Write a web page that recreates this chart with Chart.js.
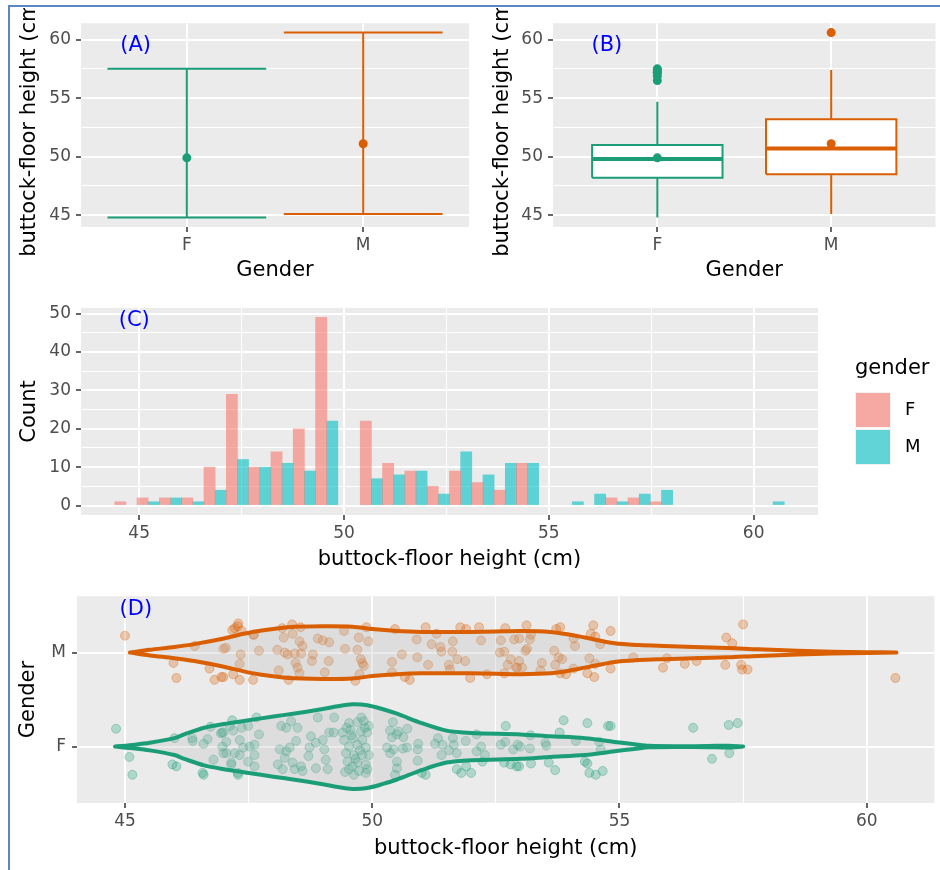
<!DOCTYPE html>
<html>
<head>
<meta charset="utf-8">
<script src="https://cdn.jsdelivr.net/npm/chart.js@4.4.1/dist/chart.umd.min.js"></script>
<style>
html, body { margin: 0; padding: 0; background: #ffffff; }
body { width: 940px; height: 870px; position: relative; overflow: hidden; }
.frame { position: absolute; left: 8px; top: 5px; width: 940px; height: 870px; border-left: 2px solid #5B87C6; border-top: 2px solid #5B87C6; }
.panel { position: absolute; }
</style>
</head>
<body>
<div class="frame"></div>
<div class="panel" style="left:10px;top:8px"><canvas id="chartA" width="470" height="282"></canvas></div>
<div class="panel" style="left:480px;top:8px"><canvas id="chartB" width="460" height="282"></canvas></div>
<div class="panel" style="left:10px;top:290px"><canvas id="chartC" width="930" height="290"></canvas></div>
<div class="panel" style="left:10px;top:580px"><canvas id="chartD" width="930" height="290"></canvas></div>
<script>
// データ
const genders = ['F', 'M']
const groupPos = [1, 2]

// (A) 範囲と平均
const rangeMin = [44.8, 45.1]
const rangeMax = [57.5, 60.6]
const meanVal = [49.9, 51.1]

// (B) 箱ひげ図
const boxQ1 = [48.2, 48.5]
const boxMed = [49.8, 50.7]
const boxQ3 = [51.0, 53.2]
const whiskLo = [44.8, 45.1]
const whiskHi = [54.7, 57.4]
const outliersF = [56.5, 56.9, 57.2, 57.2, 57.4, 57.5]
const outliersM = [60.6]

// (C) ヒストグラム
const binMid = [44.675, 45.220, 45.765, 46.309, 46.854, 47.399, 47.944, 48.489, 49.033, 49.578,
  50.123, 50.668, 51.213, 51.757, 52.302, 52.847, 53.392, 53.937, 54.481, 55.026,
  55.571, 56.116, 56.661, 57.205, 57.750, 58.295, 58.840, 59.385, 59.929, 60.474]
const countF = [1, 2, 2, 2, 10, 29, 10, 14, 20, 49, 0, 22, 11, 9, 5, 9, 6, 4, 11, 0, 0, 0, 2, 2, 1, 0, 0, 0, 0, 0]
const countM = [0, 1, 2, 1, 4, 12, 10, 11, 9, 22, 0, 7, 8, 9, 3, 14, 8, 11, 11, 0, 1, 3, 1, 3, 4, 0, 0, 0, 0, 1]

// (D) バイオリン (x と半幅)
const violinXF = [44.8, 45.2, 45.5, 46.0, 46.2, 46.6, 47.0, 47.5, 48.0, 48.4, 49.0, 49.3, 49.6, 49.9, 50.2, 50.5, 51.0, 51.5, 52.0, 53.0, 53.6, 54.3, 54.9, 55.3, 55.6, 56.2, 56.8, 57.2, 57.5]
const violinWF = [0, 0.02, 0.04, 0.09, 0.13, 0.20, 0.24, 0.28, 0.32, 0.35, 0.40, 0.43, 0.45, 0.44, 0.40, 0.35, 0.25, 0.17, 0.145, 0.13, 0.11, 0.09, 0.05, 0.025, 0.008, 0.004, 0.006, 0.01, 0]
const violinXM = [45.1, 45.5, 46.0, 46.4, 47.0, 47.4, 47.7, 48.3, 49.0, 49.6, 50.0, 50.5, 51.0, 51.5, 52.0, 52.5, 53.0, 53.6, 54.0, 54.3, 54.9, 55.4, 55.9, 56.5, 57.2, 57.8, 58.6, 59.3, 60.0, 60.6]
const violinWM = [0, 0.03, 0.06, 0.09, 0.15, 0.20, 0.23, 0.27, 0.28, 0.275, 0.25, 0.23, 0.22, 0.22, 0.22, 0.225, 0.23, 0.22, 0.19, 0.16, 0.10, 0.08, 0.07, 0.06, 0.05, 0.035, 0.02, 0.01, 0.005, 0]

// (D) ジッター点 [値, 縦のずれ]
const jitterF = [
  [44.82, 0.19], [45.09, -0.11], [45.15, -0.30], [46.00, 0.09], [46.04, -0.21], [46.36, 0.09], [46.59, 0.03], [46.67, 0.08],
  [46.59, -0.30], [46.73, 0.21], [46.79, -0.14], [46.96, 0.15], [46.99, -0.07], [46.57, -0.28], [46.94, 0.14], [46.97, 0.00],
  [47.15, -0.19], [47.28, -0.28], [47.17, 0.28], [45.96, -0.19], [46.37, 0.06],
  [46.99, 0.15], [47.12, 0.22], [47.19, 0.17], [47.36, 0.20], [47.49, 0.22], [47.66, 0.31], [47.71, 0.13], [47.05, 0.05],
  [47.32, 0.07], [47.39, -0.01], [47.52, 0.00], [47.62, 0.02], [47.05, -0.07], [47.22, -0.07], [47.32, -0.09], [47.49, -0.16],
  [47.62, -0.09], [47.15, -0.17], [47.29, -0.30], [47.62, -0.21],
  [48.16, 0.22], [48.36, 0.27], [48.26, 0.20], [48.49, 0.20], [48.90, 0.31], [49.23, 0.31], [48.13, -0.03], [48.26, -0.05],
  [48.33, -0.01], [48.46, 0.06], [48.23, -0.12], [48.09, -0.19], [48.19, -0.24], [48.39, -0.17], [48.43, -0.24], [48.56, -0.21],
  [48.59, -0.26], [48.76, 0.11], [48.73, -0.01], [48.86, 0.04], [49.00, 0.07], [49.13, 0.15], [49.22, 0.15], [48.71, -0.10],
  [48.86, -0.23], [49.06, -0.14], [49.10, -0.24], [49.03, -0.03], [49.40, 0.15],
  [49.53, 0.25], [49.70, 0.26], [49.83, 0.27], [49.56, 0.18], [49.77, 0.16], [49.90, 0.15], [49.43, 0.07], [49.61, 0.09],
  [49.80, 0.07], [49.53, 0.00], [49.70, 0.02], [49.87, -0.01], [49.47, -0.07], [49.63, -0.09], [49.80, -0.09], [49.50, -0.16],
  [49.70, -0.17], [49.87, -0.19], [49.53, -0.24], [49.73, -0.26], [49.87, -0.28], [49.93, 0.22], [49.93, -0.09], [49.63, -0.30],
  [49.58, 0.12], [49.75, -0.04], [49.66, -0.13], [49.85, 0.20], [49.48, 0.20], [49.60, -0.21], [49.78, 0.31], [49.90, -0.24],
  [49.45, -0.27],
  [50.42, 0.26], [50.36, 0.17], [50.53, 0.16], [50.71, 0.19], [50.40, 0.10], [50.50, 0.13], [50.63, 0.10], [50.30, -0.01],
  [50.43, -0.03], [50.62, -0.02], [50.70, -0.01], [50.36, -0.07], [50.50, -0.16], [50.50, -0.23], [50.46, -0.30], [50.93, 0.03],
  [50.92, -0.03], [50.92, -0.15], [51.00, -0.28], [51.08, -0.30], [51.27, 0.03], [51.33, 0.09], [51.42, 0.02], [51.40, -0.09],
  [51.55, -0.04], [51.63, 0.09], [51.65, 0.02], [51.71, -0.07], [51.71, -0.24], [51.80, -0.28], [51.89, 0.06], [51.90, -0.21],
  [52.00, -0.28], [52.11, 0.13], [52.11, -0.05], [52.20, 0.00], [52.28, -0.09], [52.23, -0.16], [52.60, 0.02], [52.69, 0.05],
  [52.70, 0.22], [52.85, -0.03], [52.67, -0.17], [52.80, -0.19], [52.92, -0.21], [52.94, 0.02],
  [52.99, 0.00], [52.97, -0.21], [53.20, 0.12], [53.19, -0.02], [53.21, -0.18], [53.50, 0.04], [53.52, 0.01], [53.57, -0.17],
  [53.70, -0.25], [53.79, 0.15], [53.87, 0.28], [54.12, 0.06], [54.35, 0.25], [54.30, -0.16], [54.35, -0.18], [54.39, -0.28],
  [54.52, -0.30], [54.59, 0.05], [54.62, -0.03], [54.66, -0.26], [54.77, 0.22], [54.82, 0.22],
  [56.49, 0.20], [57.21, 0.23], [57.39, 0.25], [56.87, -0.13], [57.22, -0.07]
]
const jitterM = [
  [45.00, 0.18], [45.98, -0.11], [46.04, -0.27], [46.41, 0.07], [46.71, -0.17], [46.81, -0.29], [46.95, -0.26], [46.99, 0.04],
  [47.17, 0.24], [47.61, 0.19], [47.28, 0.28],
  [47.29, 0.31], [47.22, 0.26], [47.36, 0.23], [47.04, 0.05], [47.34, -0.02], [47.32, -0.12], [46.99, -0.26], [47.19, -0.23],
  [47.32, -0.29], [47.59, -0.29], [47.59, 0.19], [47.71, 0.02], [48.18, 0.26], [48.38, 0.30], [48.55, 0.27], [48.21, 0.16],
  [48.39, 0.20], [48.53, 0.12], [48.59, 0.07], [48.08, 0.03], [48.23, 0.00], [48.29, -0.02], [48.43, -0.01], [48.56, -0.01],
  [48.45, -0.11], [48.49, -0.16], [48.11, -0.19], [48.31, -0.29], [48.53, -0.22], [48.78, -0.09], [48.80, -0.02], [48.90, 0.15],
  [49.00, 0.13], [49.13, 0.11], [49.12, -0.09], [49.04, -0.21], [49.45, 0.04], [49.43, 0.23], [49.73, 0.16], [49.70, 0.03],
  [49.77, -0.07], [49.80, -0.11], [49.88, 0.27], [49.92, 0.12], [49.66, -0.30], [49.74, -0.23], [49.83, -0.14],
  [50.46, 0.25], [50.60, -0.02], [50.40, -0.10], [50.40, -0.21], [50.66, -0.26], [50.76, -0.29], [50.90, 0.14], [50.91, -0.05],
  [51.08, 0.27], [51.13, -0.13], [51.20, 0.09], [51.30, 0.20], [51.38, 0.06], [51.40, 0.01], [51.55, -0.13], [51.57, -0.18],
  [51.63, 0.12], [51.62, 0.01], [51.72, -0.07], [51.78, 0.27], [51.90, 0.25], [51.88, -0.09], [51.98, -0.27], [52.16, 0.27],
  [52.20, 0.13], [52.32, -0.23], [52.60, 0.13], [52.69, 0.26], [52.58, 0.00], [52.67, 0.01], [52.74, -0.13], [52.80, -0.07],
  [52.67, -0.22], [52.87, 0.14], [52.91, -0.16],
  [53.12, 0.29], [52.97, 0.15], [53.21, 0.19], [53.19, 0.14], [53.13, 0.04], [53.10, 0.02], [52.97, -0.09], [52.93, -0.16],
  [53.03, -0.16], [53.40, -0.19], [53.43, -0.11], [53.68, 0.02], [53.72, 0.25], [53.80, 0.27], [53.77, -0.05], [53.84, -0.07],
  [53.70, -0.13], [53.80, -0.22], [53.92, -0.23], [54.07, 0.15], [54.10, 0.07], [54.07, -0.17], [54.35, -0.22], [54.39, -0.06],
  [54.49, -0.26], [54.51, -0.12], [54.42, 0.20], [54.47, 0.29], [54.51, 0.17], [54.61, 0.09], [54.82, 0.23], [54.82, -0.17],
  [55.28, -0.05],
  [55.88, -0.16], [55.96, -0.06], [56.32, -0.12], [56.56, -0.09], [57.14, -0.13], [57.16, 0.16], [57.28, 0.10], [57.46, -0.13],
  [57.48, -0.18], [57.59, -0.18], [57.50, 0.30], [60.58, -0.27]
]

// 色とフォント
const FONT = '"DejaVu Sans", "Liberation Sans", Arial, sans-serif'
const F_COL = '#1B9E77'
const M_COL = '#D95F02'
const groupCol = [F_COL, M_COL]
const histCol = ['rgba(248,118,109,0.6)', 'rgba(0,191,196,0.6)']

Chart.defaults.font.family = FONT
Chart.defaults.animation = false

// パネル背景
const panelBg = {
  id: 'panelBg',
  beforeDraw(chart) {
    const { ctx, chartArea: a } = chart
    ctx.save()
    ctx.fillStyle = '#EBEBEB'
    ctx.fillRect(a.left, a.top, a.right - a.left, a.bottom - a.top)
    ctx.restore()
  }
}

// (A)〜(D) のラベル
const tagPlugin = {
  id: 'tag',
  afterDatasetsDraw(chart, args, o) {
    const { ctx, scales } = chart
    ctx.save()
    ctx.font = '21px ' + FONT
    ctx.fillStyle = '#0000FF'
    ctx.textAlign = 'center'
    ctx.textBaseline = 'middle'
    ctx.fillText(o.text, scales.x.getPixelForValue(o.x), scales.y.getPixelForValue(o.y))
    ctx.restore()
  }
}

// 軸の設定
function makeScale(o) {
  const isMajor = v => o.major.indexOf(v) >= 0
  const vals = o.major.concat(o.minor || []).sort((a, b) => a - b)
  return {
    type: 'linear',
    position: o.pos,
    min: o.min,
    max: o.max,
    offset: false,
    afterBuildTicks: s => { s.ticks = vals.map(v => ({ value: v })) },
    afterFit: s => { if (o.pos === 'left') s.width = o.size; else s.height = o.size },
    border: { display: false },
    grid: {
      offset: false,
      color: '#FFFFFF',
      lineWidth: c => (c.tick && isMajor(c.tick.value)) ? 2 : 1,
      drawTicks: true,
      tickLength: 5,
      tickWidth: 1.5,
      tickColor: c => (c.tick && isMajor(c.tick.value)) ? '#333333' : 'rgba(0,0,0,0)'
    },
    ticks: {
      autoSkip: false,
      maxRotation: 0,
      padding: o.tickPad,
      color: '#4D4D4D',
      font: { size: 17 },
      callback: v => isMajor(v) ? (o.labels ? o.labels[v] : String(v)) : ''
    },
    title: {
      display: true,
      text: o.title,
      color: '#000000',
      font: { size: 21 },
      padding: o.pos === 'left' ? { top: o.titlePad, bottom: 0 } : { top: 0, bottom: o.titlePad }
    }
  }
}

function lineDs(data, color, width, order) {
  return { data, borderColor: color, borderWidth: width, pointRadius: 0, fill: false, tension: 0, order: order }
}
function pointDs(data, color, r) {
  return { data, showLine: false, pointRadius: r, pointBackgroundColor: color, pointBorderColor: color, pointBorderWidth: 0, order: 0 }
}

const baseOpts = {
  responsive: false,
  devicePixelRatio: 1,
  events: [],
  plugins: { legend: { display: false }, tooltip: { enabled: false } }
}

const yMajor = [45, 50, 55, 60]
const yMinor = [47.5, 52.5, 57.5]
const gLabels = { 1: 'F', 2: 'M' }

// (A) 範囲
const dsA = []
genders.forEach((g, i) => {
  const x = groupPos[i]
  dsA.push(lineDs([{ x, y: rangeMin[i] }, { x, y: rangeMax[i] }], groupCol[i], 2, 2))
  dsA.push(lineDs([{ x: x - 0.45, y: rangeMax[i] }, { x: x + 0.45, y: rangeMax[i] }], groupCol[i], 2, 2))
  dsA.push(lineDs([{ x: x - 0.45, y: rangeMin[i] }, { x: x + 0.45, y: rangeMin[i] }], groupCol[i], 2, 2))
  dsA.push(pointDs([{ x, y: meanVal[i] }], groupCol[i], 4.5))
})

new Chart(document.getElementById('chartA'), {
  type: 'line',
  data: { datasets: dsA },
  options: Object.assign({}, baseOpts, {
    layout: { padding: { top: 12, right: 11, left: 0, bottom: 0 } },
    scales: {
      x: makeScale({ pos: 'bottom', min: 0.4, max: 2.6, major: [1, 2], labels: gLabels, size: 63, tickPad: 3, title: 'Gender', titlePad: 7 }),
      y: makeScale({ pos: 'left', min: 43.99, max: 61.4, major: yMajor, minor: yMinor, size: 71, tickPad: 5, title: 'buttock-floor height (cm)', titlePad: 7 })
    },
    plugins: Object.assign({}, baseOpts.plugins, { tag: { text: '(A)', x: 0.71, y: 59.5 } })
  }),
  plugins: [panelBg, tagPlugin]
})

// (B) 箱ひげ図
const dsB = []
const outliers = [outliersF, outliersM]
genders.forEach((g, i) => {
  const x = groupPos[i]
  const h = 0.375
  dsB.push({
    data: [{ x: x - h, y: boxQ1[i] }, { x: x + h, y: boxQ1[i] }, { x: x + h, y: boxQ3[i] }, { x: x - h, y: boxQ3[i] }, { x: x - h, y: boxQ1[i] }],
    borderColor: groupCol[i], borderWidth: 2, backgroundColor: '#FFFFFF', fill: 'shape', pointRadius: 0, tension: 0, order: 5
  })
  dsB.push(lineDs([{ x, y: boxQ3[i] }, { x, y: whiskHi[i] }], groupCol[i], 2, 4))
  dsB.push(lineDs([{ x, y: whiskLo[i] }, { x, y: boxQ1[i] }], groupCol[i], 2, 4))
  dsB.push(lineDs([{ x: x - h, y: boxMed[i] }, { x: x + h, y: boxMed[i] }], groupCol[i], 4, 3))
  dsB.push(pointDs(outliers[i].map(v => ({ x, y: v })), groupCol[i], 4.5))
  dsB.push(pointDs([{ x, y: meanVal[i] }], groupCol[i], 4.5))
})

new Chart(document.getElementById('chartB'), {
  type: 'line',
  data: { datasets: dsB },
  options: Object.assign({}, baseOpts, {
    layout: { padding: { top: 12, right: 0, left: 0, bottom: 0 } },
    scales: {
      x: makeScale({ pos: 'bottom', min: 0.4, max: 2.6, major: [1, 2], labels: gLabels, size: 63, tickPad: 3, title: 'Gender', titlePad: 7 }),
      y: makeScale({ pos: 'left', min: 43.99, max: 61.4, major: yMajor, minor: yMinor, size: 73, tickPad: 5, title: 'buttock-floor height (cm)', titlePad: 10 })
    },
    plugins: Object.assign({}, baseOpts.plugins, { tag: { text: '(B)', x: 0.71, y: 59.5 } })
  }),
  plugins: [panelBg, tagPlugin]
})

// (C) ヒストグラムの凡例
const legendC = {
  id: 'legendC',
  afterDraw(chart) {
    const { ctx, chartArea: a } = chart
    const x0 = a.right + 37
    ctx.save()
    ctx.textBaseline = 'middle'
    ctx.textAlign = 'left'
    ctx.fillStyle = '#000000'
    ctx.font = '21px ' + FONT
    ctx.fillText('gender', x0, a.top + 61)
    genders.forEach((g, i) => {
      const ky = a.top + 84 + i * 37
      ctx.fillStyle = '#F2F2F2'
      ctx.fillRect(x0, ky, 36, 36)
      ctx.fillStyle = histCol[i]
      ctx.fillRect(x0 + 1, ky + 1, 34, 34)
      ctx.fillStyle = '#000000'
      ctx.font = '18px ' + FONT
      ctx.fillText(g, x0 + 50, ky + 18)
    })
    ctx.restore()
  }
}

// 0 件のビンは描かない
const binData = counts => binMid.map((x, i) => ({ x, y: counts[i] > 0 ? counts[i] : null }))

new Chart(document.getElementById('chartC'), {
  type: 'bar',
  data: {
    datasets: [
      { label: 'F', data: binData(countF), backgroundColor: histCol[0], borderWidth: 0, barPercentage: 1, categoryPercentage: 1 },
      { label: 'M', data: binData(countM), backgroundColor: histCol[1], borderWidth: 0, barPercentage: 1, categoryPercentage: 1 }
    ]
  },
  options: Object.assign({}, baseOpts, {
    layout: { padding: { top: 18, right: 122, left: 0, bottom: 0 } },
    scales: {
      x: makeScale({ pos: 'bottom', min: 43.58, max: 61.57, major: [45, 50, 55, 60], minor: [47.5, 52.5, 57.5], size: 65, tickPad: 3, title: 'buttock-floor height (cm)', titlePad: 8 }),
      y: makeScale({ pos: 'left', min: -2.45, max: 51.45, major: [0, 10, 20, 30, 40, 50], minor: [5, 15, 25, 35, 45], size: 71, tickPad: 5, title: 'Count', titlePad: 7 })
    },
    plugins: Object.assign({}, baseOpts.plugins, { tag: { text: '(C)', x: 44.88, y: 48.2 } })
  }),
  plugins: [panelBg, tagPlugin, legendC]
})

// (D) バイオリン + ジッター
function violinPts(xsArr, ws, c) {
  const up = xsArr.map((x, i) => ({ x, y: c + ws[i] }))
  const lo = xsArr.map((x, i) => ({ x, y: c - ws[i] })).reverse()
  return up.concat(lo)
}
const violins = [[violinXF, violinWF], [violinXM, violinWM]]
const jitters = [jitterF, jitterM]
const pointFill = ['rgba(27,158,119,0.28)', 'rgba(217,95,2,0.28)']
const pointLine = ['rgba(27,158,119,0.35)', 'rgba(217,95,2,0.35)']
const dsD = []
genders.forEach((g, i) => {
  const c = groupPos[i]
  dsD.push({
    data: jitters[i].map(p => ({ x: p[0], y: c + p[1] })),
    showLine: false, pointRadius: 4.5, pointBackgroundColor: pointFill[i], pointBorderColor: pointLine[i], pointBorderWidth: 1, order: 1
  })
  dsD.push({
    data: violinPts(violins[i][0], violins[i][1], c),
    borderColor: groupCol[i], borderWidth: 4, backgroundColor: 'rgba(190,190,190,0.3)', fill: 'shape',
    pointRadius: 0, tension: 0.3, borderJoinStyle: 'round', borderCapStyle: 'round', order: 0
  })
})

new Chart(document.getElementById('chartD'), {
  type: 'line',
  data: { datasets: dsD },
  options: Object.assign({}, baseOpts, {
    layout: { padding: { top: 16, right: 0, left: 0, bottom: 0 } },
    scales: {
      x: makeScale({ pos: 'bottom', min: 44.03, max: 61.37, major: [45, 50, 55, 60], minor: [47.5, 52.5, 57.5], size: 67, tickPad: 3, title: 'buttock-floor height (cm)', titlePad: 9 }),
      y: makeScale({ pos: 'left', min: 0.4, max: 2.6, major: [1, 2], labels: gLabels, size: 67, tickPad: 6, title: 'Gender', titlePad: 6 })
    },
    plugins: Object.assign({}, baseOpts.plugins, { tag: { text: '(D)', x: 45.22, y: 2.46 } })
  }),
  plugins: [panelBg, tagPlugin]
})
</script>
</body>
</html>
